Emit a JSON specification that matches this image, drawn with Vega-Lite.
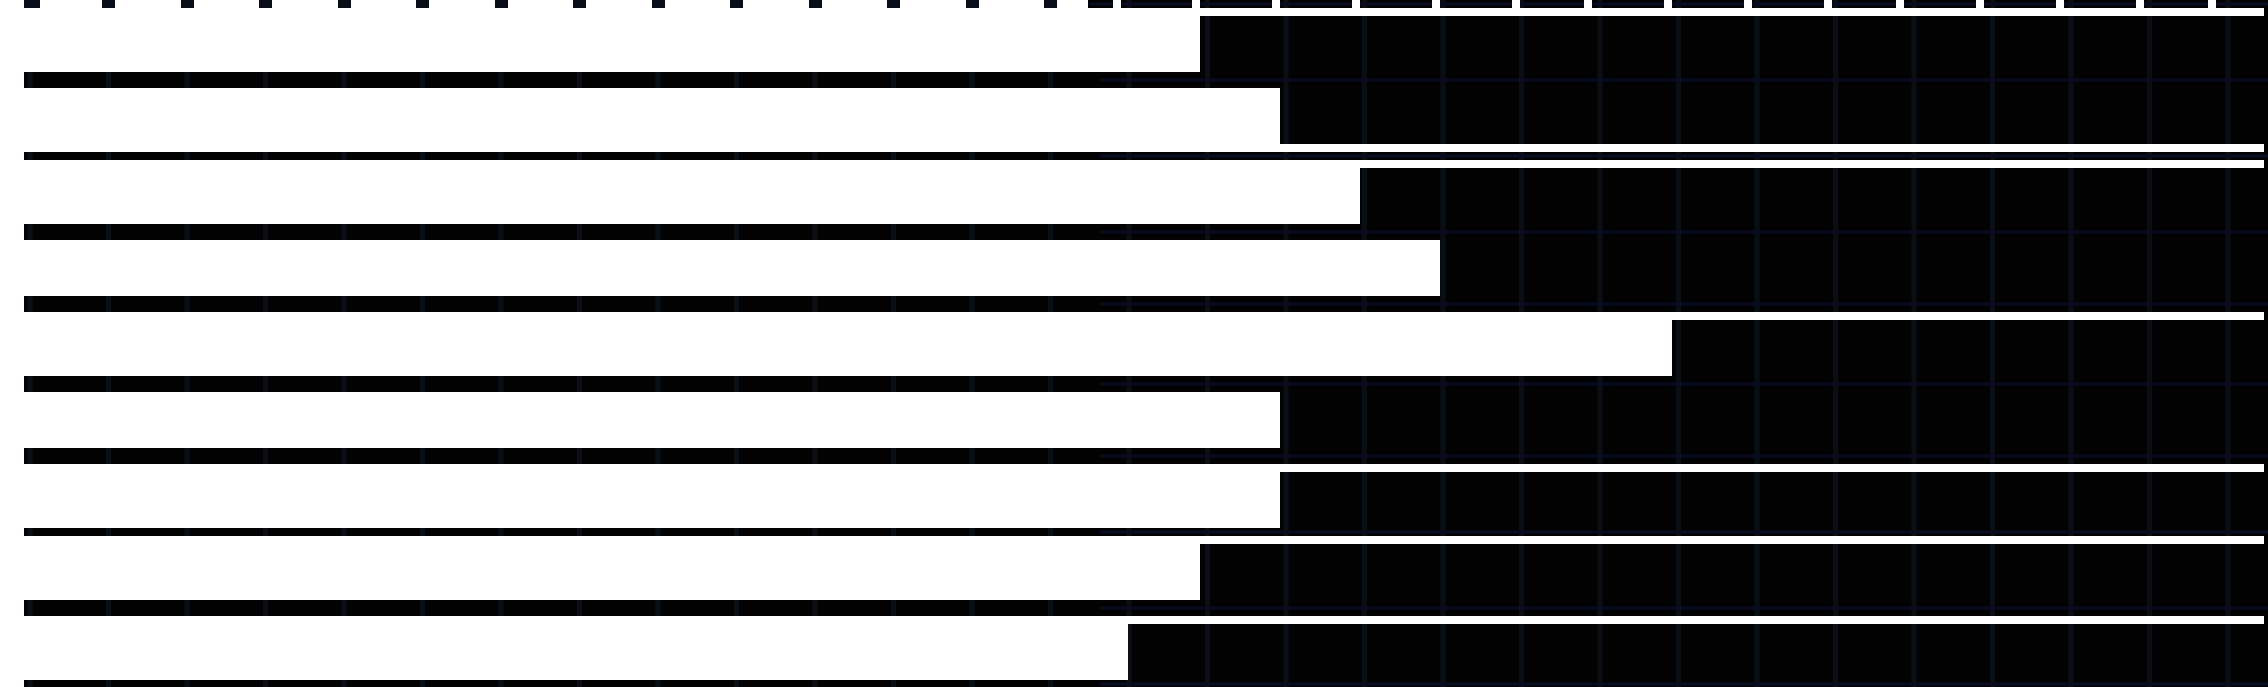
{
  "$schema": "https://vega.github.io/schema/vega-lite/v6.json",
  "width": 2268,
  "height": 687,
  "padding": 0,
  "autosize": {"type": "none"},
  "background": "#020202",
  "config": {"view": {"stroke": null}},
  "datasets": {
    "vgrid": [
      {"gx": 30}, {"gx": 108.5}, {"gx": 187}, {"gx": 265.5}, {"gx": 344}, {"gx": 422.5}, {"gx": 501}, {"gx": 579.5},
      {"gx": 658}, {"gx": 736.5}, {"gx": 815}, {"gx": 893.5}, {"gx": 972}, {"gx": 1050.5}, {"gx": 1129}, {"gx": 1207.5},
      {"gx": 1286}, {"gx": 1364.5}, {"gx": 1443}, {"gx": 1521.5}, {"gx": 1600}, {"gx": 1678.5}, {"gx": 1757}, {"gx": 1835.5},
      {"gx": 1914}, {"gx": 1992.5}, {"gx": 2071}, {"gx": 2149.5}, {"gx": 2228}
    ],
    "hgrid": [
      {"gy": 4, "from": 1090, "to": 2268},
      {"gy": 80, "from": 1100, "to": 2268},
      {"gy": 156, "from": 1100, "to": 2268},
      {"gy": 232, "from": 1100, "to": 2268},
      {"gy": 304, "from": 1100, "to": 2268},
      {"gy": 384, "from": 1100, "to": 2268},
      {"gy": 456, "from": 1100, "to": 2268},
      {"gy": 532, "from": 1100, "to": 2268},
      {"gy": 608, "from": 1100, "to": 2268},
      {"gy": 684, "from": 1100, "to": 2268}
    ],
    "white": [
      {"part": "left column", "x": 0, "x2": 24, "y": 0, "y2": 687},
      {"part": "top strip", "x": 0, "x2": 1088, "y": 0, "y2": 8},
      {"part": "top gap", "x": 1113, "x2": 1121, "y": 0, "y2": 8},
      {"part": "top gap", "x": 1192, "x2": 1200, "y": 0, "y2": 8},
      {"part": "top gap", "x": 1272, "x2": 1280, "y": 0, "y2": 8},
      {"part": "top gap", "x": 1352, "x2": 1360, "y": 0, "y2": 8},
      {"part": "top gap", "x": 1432, "x2": 1440, "y": 0, "y2": 8},
      {"part": "top gap", "x": 1512, "x2": 1520, "y": 0, "y2": 8},
      {"part": "top gap", "x": 1584, "x2": 1592, "y": 0, "y2": 8},
      {"part": "top gap", "x": 1664, "x2": 1672, "y": 0, "y2": 8},
      {"part": "top gap", "x": 1744, "x2": 1752, "y": 0, "y2": 8},
      {"part": "top gap", "x": 1824, "x2": 1832, "y": 0, "y2": 8},
      {"part": "top gap", "x": 1896, "x2": 1904, "y": 0, "y2": 8},
      {"part": "top gap", "x": 1976, "x2": 1984, "y": 0, "y2": 8},
      {"part": "top gap", "x": 2056, "x2": 2064, "y": 0, "y2": 8},
      {"part": "top gap", "x": 2136, "x2": 2144, "y": 0, "y2": 8},
      {"part": "top gap", "x": 2208, "x2": 2216, "y": 0, "y2": 8},
      {"part": "bar 1 line", "x": 0, "x2": 2264, "y": 8, "y2": 16},
      {"part": "bar 1", "x": 0, "x2": 1200, "y": 8, "y2": 72},
      {"part": "bar 2", "x": 0, "x2": 1280, "y": 88, "y2": 152},
      {"part": "bar 2 line", "x": 0, "x2": 2264, "y": 144, "y2": 152},
      {"part": "bar 3 line", "x": 0, "x2": 2264, "y": 160, "y2": 168},
      {"part": "bar 3", "x": 0, "x2": 1360, "y": 160, "y2": 224},
      {"part": "bar 4", "x": 0, "x2": 1440, "y": 240, "y2": 296},
      {"part": "bar 5 line", "x": 0, "x2": 2264, "y": 312, "y2": 320},
      {"part": "bar 5", "x": 0, "x2": 1672, "y": 312, "y2": 376},
      {"part": "bar 6", "x": 0, "x2": 1280, "y": 392, "y2": 448},
      {"part": "bar 7 line", "x": 0, "x2": 2264, "y": 464, "y2": 472},
      {"part": "bar 7", "x": 0, "x2": 1280, "y": 464, "y2": 528},
      {"part": "bar 8 line", "x": 0, "x2": 2264, "y": 536, "y2": 544},
      {"part": "bar 8", "x": 0, "x2": 1200, "y": 536, "y2": 600},
      {"part": "bar 9 line", "x": 0, "x2": 2264, "y": 616, "y2": 624},
      {"part": "bar 9", "x": 0, "x2": 1128, "y": 616, "y2": 680}
    ],
    "dots": [
      {"dx": 24, "dx2": 40}, {"dx": 102, "dx2": 115}, {"dx": 181, "dx2": 194}, {"dx": 259, "dx2": 272},
      {"dx": 338, "dx2": 351}, {"dx": 416, "dx2": 429}, {"dx": 495, "dx2": 508}, {"dx": 573, "dx2": 586},
      {"dx": 652, "dx2": 665}, {"dx": 730, "dx2": 743}, {"dx": 809, "dx2": 822}, {"dx": 887, "dx2": 900},
      {"dx": 966, "dx2": 979}, {"dx": 1044, "dx2": 1057}
    ]
  },
  "layer": [
    {
      "data": {"name": "vgrid"},
      "mark": {"type": "rule", "color": "#0a0f15", "strokeWidth": 5},
      "encoding": {
        "x": {"field": "gx", "type": "quantitative", "axis": null, "scale": {"domain": [0, 2268], "nice": false, "zero": false}}
      }
    },
    {
      "data": {"name": "hgrid"},
      "mark": {"type": "rule", "color": "#080c22", "strokeWidth": 3},
      "encoding": {
        "y": {"field": "gy", "type": "quantitative", "axis": null, "scale": {"domain": [0, 687], "reverse": true, "nice": false, "zero": false}},
        "x": {"field": "from", "type": "quantitative", "axis": null, "scale": {"domain": [0, 2268], "nice": false, "zero": false}},
        "x2": {"field": "to"}
      }
    },
    {
      "data": {"name": "white"},
      "mark": {"type": "rect", "color": "#ffffff"},
      "encoding": {
        "x": {"field": "x", "type": "quantitative", "axis": null, "scale": {"domain": [0, 2268], "nice": false, "zero": false}},
        "x2": {"field": "x2"},
        "y": {"field": "y", "type": "quantitative", "axis": null, "scale": {"domain": [0, 687], "reverse": true, "nice": false, "zero": false}},
        "y2": {"field": "y2"}
      }
    },
    {
      "data": {"name": "dots"},
      "mark": {"type": "rect", "color": "#0a0e18"},
      "encoding": {
        "x": {"field": "dx", "type": "quantitative", "axis": null, "scale": {"domain": [0, 2268], "nice": false, "zero": false}},
        "x2": {"field": "dx2"},
        "y": {"datum": 0, "type": "quantitative", "axis": null, "scale": {"domain": [0, 687], "reverse": true, "nice": false, "zero": false}},
        "y2": {"datum": 8}
      }
    }
  ]
}
